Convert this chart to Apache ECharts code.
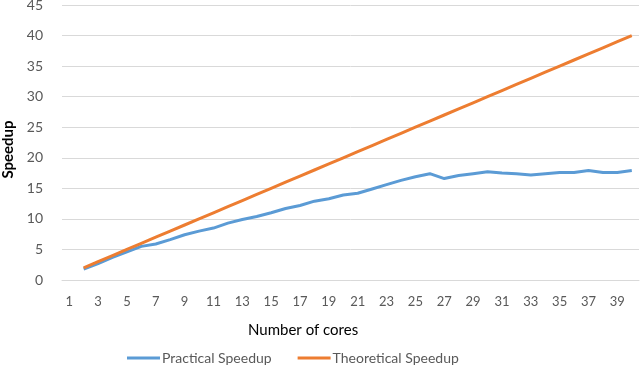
<!DOCTYPE html>
<html>
<head>
<meta charset="utf-8">
<script src="https://cdn.jsdelivr.net/npm/echarts@6/dist/echarts.min.js"></script>
<style>
  html, body { margin: 0; padding: 0; background: #fff; }
  #chart { width: 640px; height: 366px; }
</style>
</head>
<body>
<div id="chart"></div>
<script>
// number of cores 1..40 (category axis)
const cores = [];
for (let i = 1; i <= 40; i++) cores.push(String(i));

// speedup, index 0 = 1 core (no value)
const practical = [null, 1.8, 2.7, 3.7, 4.6, 5.5, 5.9, 6.6, 7.4, 8.0,
  8.5, 9.3, 9.9, 10.4, 11.0, 11.7, 12.2, 12.9, 13.3, 13.9,
  14.2, 14.9, 15.6, 16.3, 16.9, 17.4, 16.6, 17.1, 17.4, 17.7,
  17.5, 17.4, 17.2, 17.4, 17.6, 17.6, 17.9, 17.6, 17.6, 17.9];
const theoretical = [null, 2, 3, 4, 5, 6, 7, 8, 9, 10,
  11, 12, 13, 14, 15, 16, 17, 18, 19, 20,
  21, 22, 23, 24, 25, 26, 27, 28, 29, 30,
  31, 32, 33, 34, 35, 36, 37, 38, 39, 40];

const font = 'Lato';
const chart = echarts.init(document.getElementById('chart'));

chart.setOption({
  animation: false,
  title: {
    text: 'Number of cores',
    left: 243,
    top: 318,
    textStyle: { fontFamily: font, fontSize: 15, fontWeight: 'normal', color: '#000' }
  },
  legend: {
    left: 122,
    top: 346,
    icon: 'rect',
    itemWidth: 33,
    itemHeight: 3,
    itemGap: 26,
    textStyle: { fontFamily: font, fontSize: 14, color: '#595959', padding: [0, 0, 0, -3] },
    data: ['Practical Speedup', 'Theoretical Speedup']
  },
  grid: { left: 62, right: 1, top: 5, bottom: 86, containLabel: false, outerBoundsMode: 'none' },
  xAxis: {
    type: 'category',
    data: cores,
    boundaryGap: true,
    axisLine: { lineStyle: { color: '#d9d9d9' } },
    axisTick: { show: false },
    axisLabel: { interval: 1, color: '#595959', fontFamily: font, fontSize: 13, margin: 15 }
  },
  yAxis: {
    type: 'value',
    min: 0,
    max: 45,
    interval: 5,
    name: 'Speedup',
    nameLocation: 'middle',
    nameGap: 45,
    nameTextStyle: { fontFamily: font, fontSize: 15, fontWeight: 'bold', color: '#000', padding: [0, 14, 0, 0] },
    splitLine: { lineStyle: { color: '#d9d9d9' } },
    axisLabel: { color: '#595959', fontFamily: font, fontSize: 14, margin: 19 }
  },
  series: [
    {
      name: 'Practical Speedup',
      type: 'line',
      data: practical,
      showSymbol: false,
      symbol: 'none',
      lineStyle: { width: 3, color: '#5b9bd5' },
      itemStyle: { color: '#5b9bd5' }
    },
    {
      name: 'Theoretical Speedup',
      type: 'line',
      data: theoretical,
      showSymbol: false,
      symbol: 'none',
      lineStyle: { width: 3, color: '#ed7d31' },
      itemStyle: { color: '#ed7d31' }
    }
  ]
});
</script>
</body>
</html>
